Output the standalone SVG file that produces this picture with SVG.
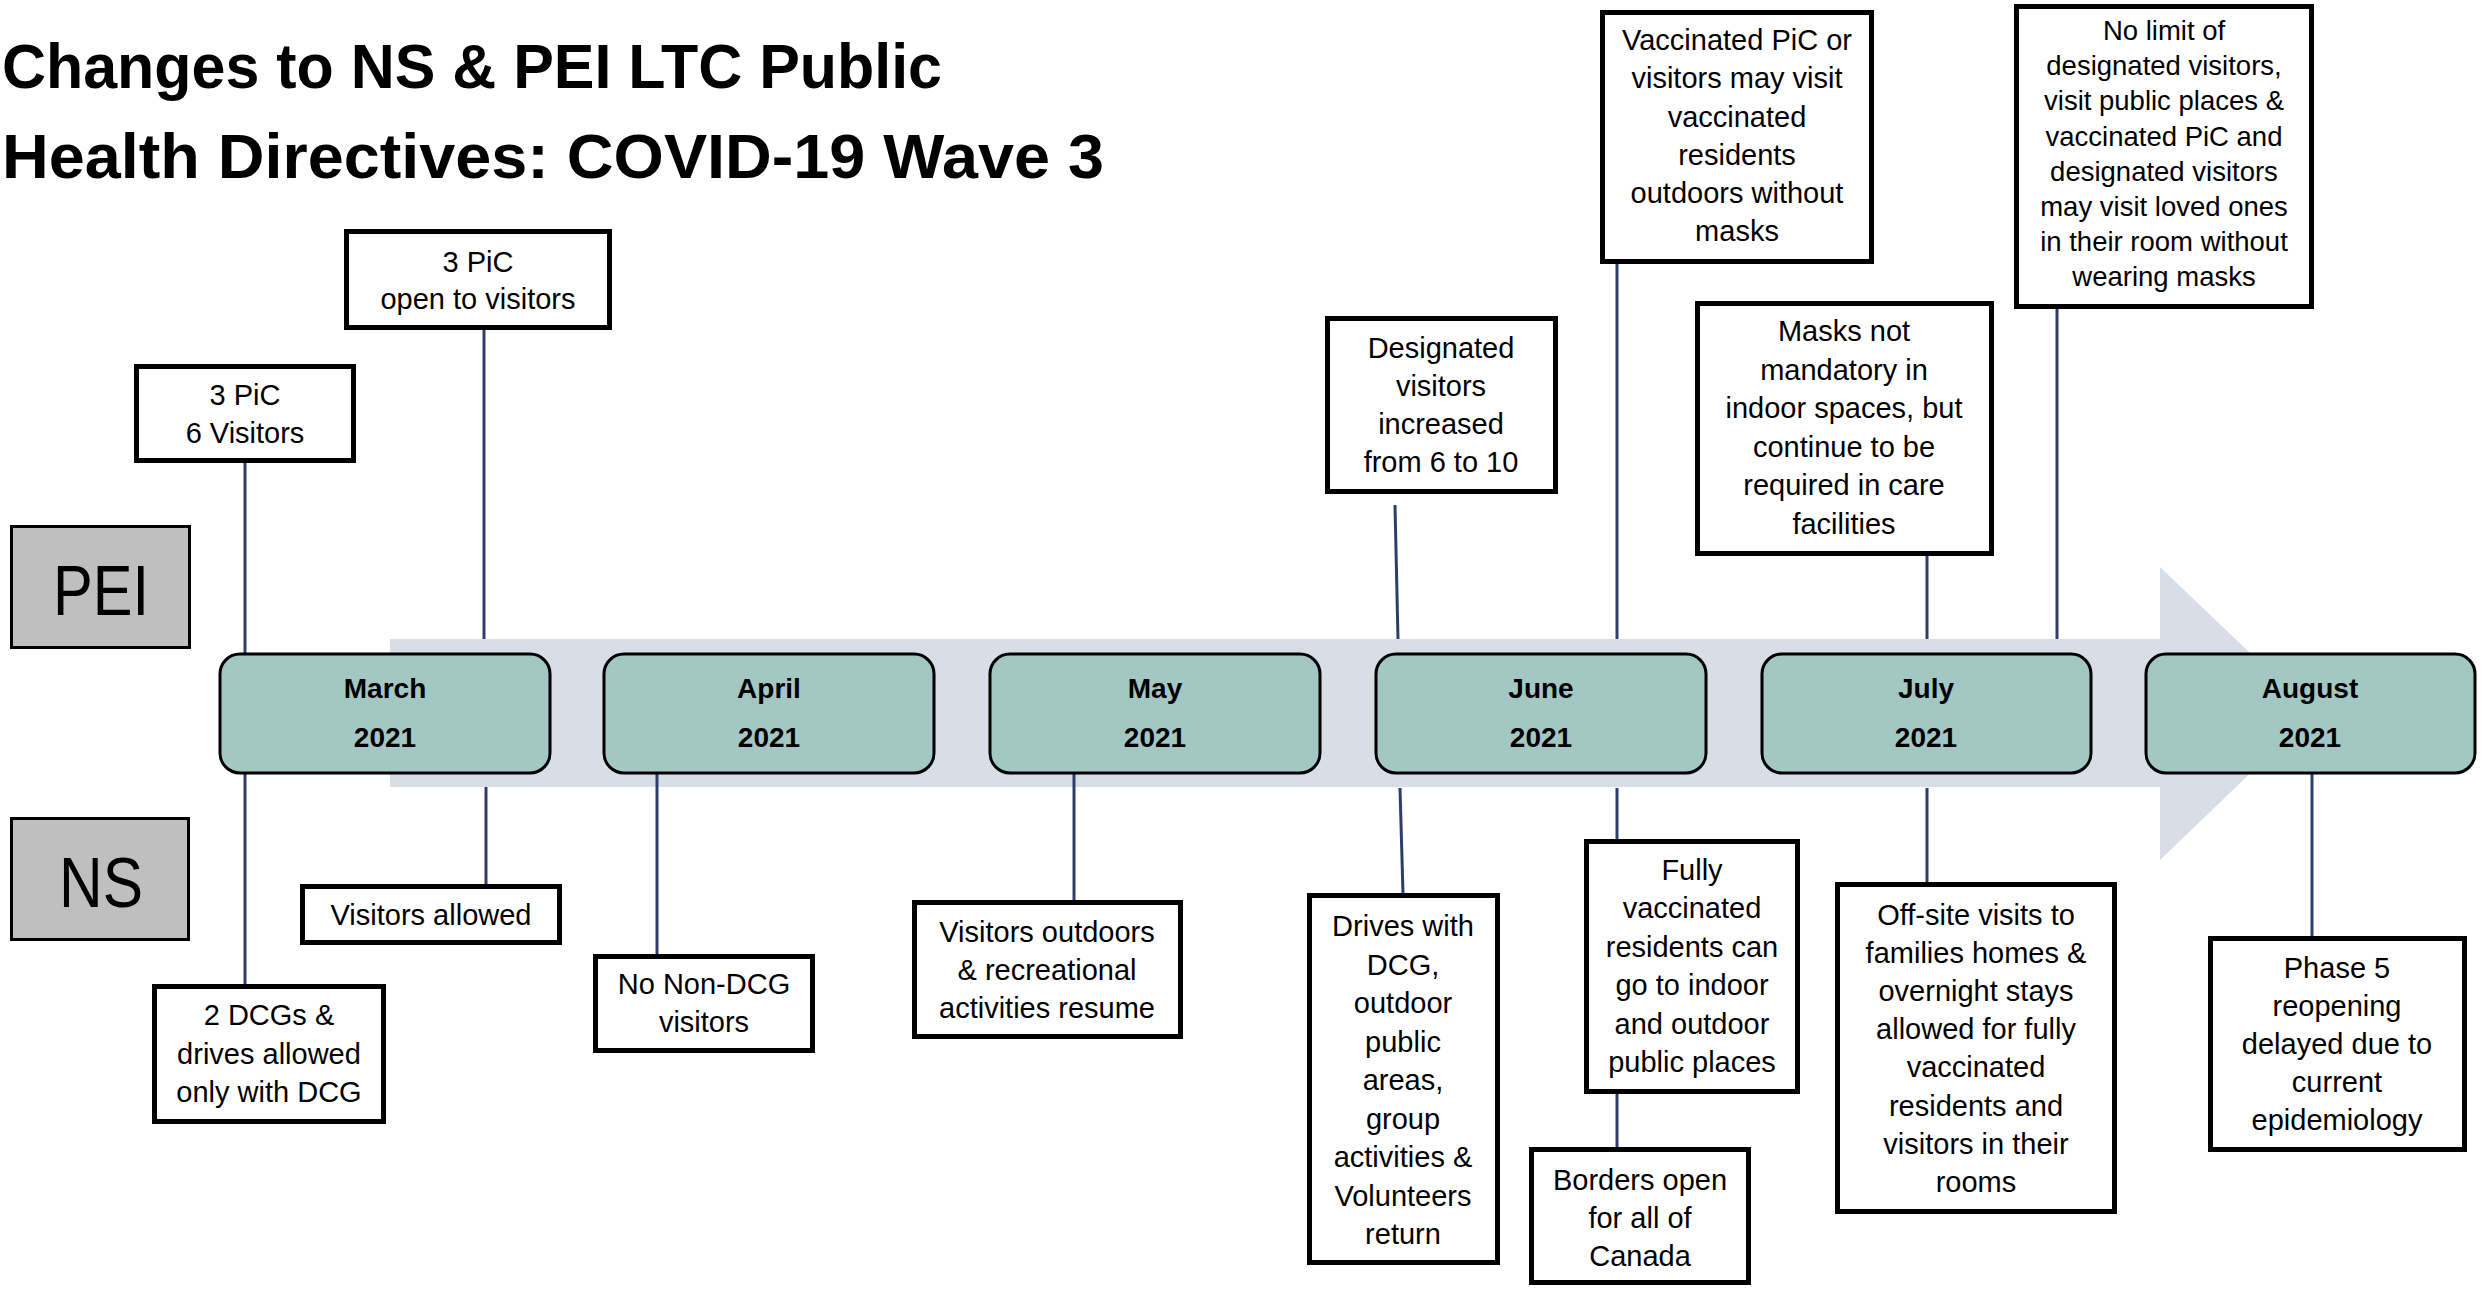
<svg xmlns="http://www.w3.org/2000/svg" width="2484" height="1289" viewBox="0 0 2484 1289">
<style>
.title{font-family:"Liberation Sans",Arial,sans-serif;font-weight:bold;font-size:63px;fill:#000}
.lab{fill:#bfbfbf;stroke:#000;stroke-width:3}
.labt{font-family:"Liberation Sans",Arial,sans-serif;font-size:70px;fill:#000;text-anchor:middle}
.month{fill:#a3c8c4;stroke:#000;stroke-width:3}
.mt{font-family:"Liberation Sans",Arial,sans-serif;font-weight:bold;font-size:28px;fill:#000;text-anchor:middle}
.ev{fill:#fff;stroke:#000;stroke-width:5}
.et{font-family:"Liberation Sans",Arial,sans-serif;font-size:29px;fill:#000;text-anchor:middle}
.et2{font-family:"Liberation Sans",Arial,sans-serif;font-size:27.5px;fill:#000;text-anchor:middle}
.conn line{stroke:#2f3d6b;stroke-width:3}
</style>
<rect width="2484" height="1289" fill="#fff"/>
<g id="title">
<text class="title" x="2" y="88" textLength="940" lengthAdjust="spacingAndGlyphs">Changes to NS &amp; PEI LTC Public</text>
<text class="title" x="2" y="178" textLength="1102" lengthAdjust="spacingAndGlyphs">Health Directives: COVID-19 Wave 3</text>
</g>
<g id="label-pei"><rect class="lab" x="11.5" y="526.5" width="178" height="121"/><text class="labt" x="101" y="615" textLength="96" lengthAdjust="spacingAndGlyphs">PEI</text></g>
<g id="label-ns"><rect class="lab" x="11.5" y="818.5" width="177" height="121"/><text class="labt" x="101" y="907" textLength="84" lengthAdjust="spacingAndGlyphs">NS</text></g>
<g id="timeline-arrow"><path d="M390 639 H2160 V567 L2313 713 L2160 860 V787 H390 Z" fill="#d7dee5"/></g>
<g id="connectors" class="conn">
<line x1="245" y1="463" x2="245" y2="654"/>
<line x1="245" y1="773" x2="245" y2="985"/>
<line x1="484" y1="330" x2="484" y2="639"/>
<line x1="486" y1="787" x2="486" y2="885"/>
<line x1="657" y1="773" x2="657" y2="955"/>
<line x1="1074" y1="773" x2="1074" y2="901"/>
<line x1="1395" y1="505" x2="1398" y2="639"/>
<line x1="1400" y1="788" x2="1403" y2="894"/>
<line x1="1617" y1="264" x2="1617" y2="639"/>
<line x1="1617" y1="788" x2="1617" y2="840"/>
<line x1="1617" y1="1094" x2="1617" y2="1148"/>
<line x1="1927" y1="556" x2="1927" y2="639"/>
<line x1="1927" y1="788" x2="1927" y2="883"/>
<line x1="2057" y1="309" x2="2057" y2="639"/>
<line x1="2312" y1="773" x2="2312" y2="937"/>
</g>
<g id="m-march"><rect class="month" x="220" y="654" width="330" height="119" rx="20"/><text class="mt" x="385" y="698">March</text><text class="mt" x="385" y="747">2021</text></g>
<g id="m-april"><rect class="month" x="604" y="654" width="330" height="119" rx="20"/><text class="mt" x="769" y="698">April</text><text class="mt" x="769" y="747">2021</text></g>
<g id="m-may"><rect class="month" x="990" y="654" width="330" height="119" rx="20"/><text class="mt" x="1155" y="698">May</text><text class="mt" x="1155" y="747">2021</text></g>
<g id="m-june"><rect class="month" x="1376" y="654" width="330" height="119" rx="20"/><text class="mt" x="1541" y="698">June</text><text class="mt" x="1541" y="747">2021</text></g>
<g id="m-july"><rect class="month" x="1762" y="654" width="329" height="119" rx="20"/><text class="mt" x="1926" y="698">July</text><text class="mt" x="1926" y="747">2021</text></g>
<g id="m-august"><rect class="month" x="2146" y="654" width="329" height="119" rx="20"/><text class="mt" x="2310" y="698">August</text><text class="mt" x="2310" y="747">2021</text></g>

<g id="pei-march-1"><rect class="ev" x="136.5" y="366.5" width="217" height="94"/>
<text class="et" x="245" y="405">3 PiC</text><text class="et" x="245" y="443">6 Visitors</text></g>
<g id="pei-march-2"><rect class="ev" x="346.5" y="231.5" width="263" height="96"/>
<text class="et" x="478" y="272">3 PiC</text><text class="et" x="478" y="309">open to visitors</text></g>
<g id="pei-june-1"><rect class="ev" x="1327.5" y="318.5" width="228" height="173"/>
<text class="et" x="1441" y="358">Designated</text><text class="et" x="1441" y="396">visitors</text><text class="et" x="1441" y="434">increased</text><text class="et" x="1441" y="472">from 6 to 10</text></g>
<g id="pei-june-2"><rect class="ev" x="1602.5" y="12.5" width="269" height="249"/>
<text class="et" x="1737" y="50">Vaccinated PiC or</text><text class="et" x="1737" y="88">visitors may visit</text><text class="et" x="1737" y="127">vaccinated</text><text class="et" x="1737" y="165">residents</text><text class="et" x="1737" y="203">outdoors without</text><text class="et" x="1737" y="241">masks</text></g>
<g id="pei-july-1"><rect class="ev" x="1697.5" y="303.5" width="294" height="250"/>
<text class="et" x="1844" y="341">Masks not</text><text class="et" x="1844" y="380">mandatory in</text><text class="et" x="1844" y="418">indoor spaces, but</text><text class="et" x="1844" y="457">continue to be</text><text class="et" x="1844" y="495">required in care</text><text class="et" x="1844" y="534">facilities</text></g>
<g id="pei-july-2"><rect class="ev" x="2016.5" y="6.5" width="295" height="300"/>
<text class="et2" x="2164" y="40">No limit of</text><text class="et2" x="2164" y="75">designated visitors,</text><text class="et2" x="2164" y="110">visit public places &amp;</text><text class="et2" x="2164" y="146">vaccinated PiC and</text><text class="et2" x="2164" y="181">designated visitors</text><text class="et2" x="2164" y="216">may visit loved ones</text><text class="et2" x="2164" y="251">in their room without</text><text class="et2" x="2164" y="286">wearing masks</text></g>

<g id="ns-march-1"><rect class="ev" x="302.5" y="886.5" width="257" height="56"/>
<text class="et" x="431" y="925">Visitors allowed</text></g>
<g id="ns-march-2"><rect class="ev" x="154.5" y="986.5" width="229" height="135"/>
<text class="et" x="269" y="1025">2 DCGs &amp;</text><text class="et" x="269" y="1064">drives allowed</text><text class="et" x="269" y="1102">only with DCG</text></g>
<g id="ns-april"><rect class="ev" x="595.5" y="956.5" width="217" height="94"/>
<text class="et" x="704" y="994">No Non-DCG</text><text class="et" x="704" y="1032">visitors</text></g>
<g id="ns-may"><rect class="ev" x="914.5" y="902.5" width="266" height="134"/>
<text class="et" x="1047" y="942">Visitors outdoors</text><text class="et" x="1047" y="980">&amp; recreational</text><text class="et" x="1047" y="1018">activities resume</text></g>
<g id="ns-june-1"><rect class="ev" x="1309.5" y="895.5" width="188" height="367"/>
<text class="et" x="1403" y="936">Drives with</text><text class="et" x="1403" y="975">DCG,</text><text class="et" x="1403" y="1013">outdoor</text><text class="et" x="1403" y="1052">public</text><text class="et" x="1403" y="1090">areas,</text><text class="et" x="1403" y="1129">group</text><text class="et" x="1403" y="1167">activities &amp;</text><text class="et" x="1403" y="1206">Volunteers</text><text class="et" x="1403" y="1244">return</text></g>
<g id="ns-june-2"><rect class="ev" x="1586.5" y="841.5" width="211" height="250"/>
<text class="et" x="1692" y="880">Fully</text><text class="et" x="1692" y="918">vaccinated</text><text class="et" x="1692" y="957">residents can</text><text class="et" x="1692" y="995">go to indoor</text><text class="et" x="1692" y="1034">and outdoor</text><text class="et" x="1692" y="1072">public places</text></g>
<g id="ns-june-3"><rect class="ev" x="1531.5" y="1149.5" width="217" height="133"/>
<text class="et" x="1640" y="1190">Borders open</text><text class="et" x="1640" y="1228">for all of</text><text class="et" x="1640" y="1266">Canada</text></g>
<g id="ns-july"><rect class="ev" x="1837.5" y="884.5" width="277" height="327"/>
<text class="et" x="1976" y="925">Off-site visits to</text><text class="et" x="1976" y="963">families homes &amp;</text><text class="et" x="1976" y="1001">overnight stays</text><text class="et" x="1976" y="1039">allowed for fully</text><text class="et" x="1976" y="1077">vaccinated</text><text class="et" x="1976" y="1116">residents and</text><text class="et" x="1976" y="1154">visitors in their</text><text class="et" x="1976" y="1192">rooms</text></g>
<g id="ns-august"><rect class="ev" x="2210.5" y="938.5" width="254" height="211"/>
<text class="et" x="2337" y="978">Phase 5</text><text class="et" x="2337" y="1016">reopening</text><text class="et" x="2337" y="1054">delayed due to</text><text class="et" x="2337" y="1092">current</text><text class="et" x="2337" y="1130">epidemiology</text></g>
</svg>
